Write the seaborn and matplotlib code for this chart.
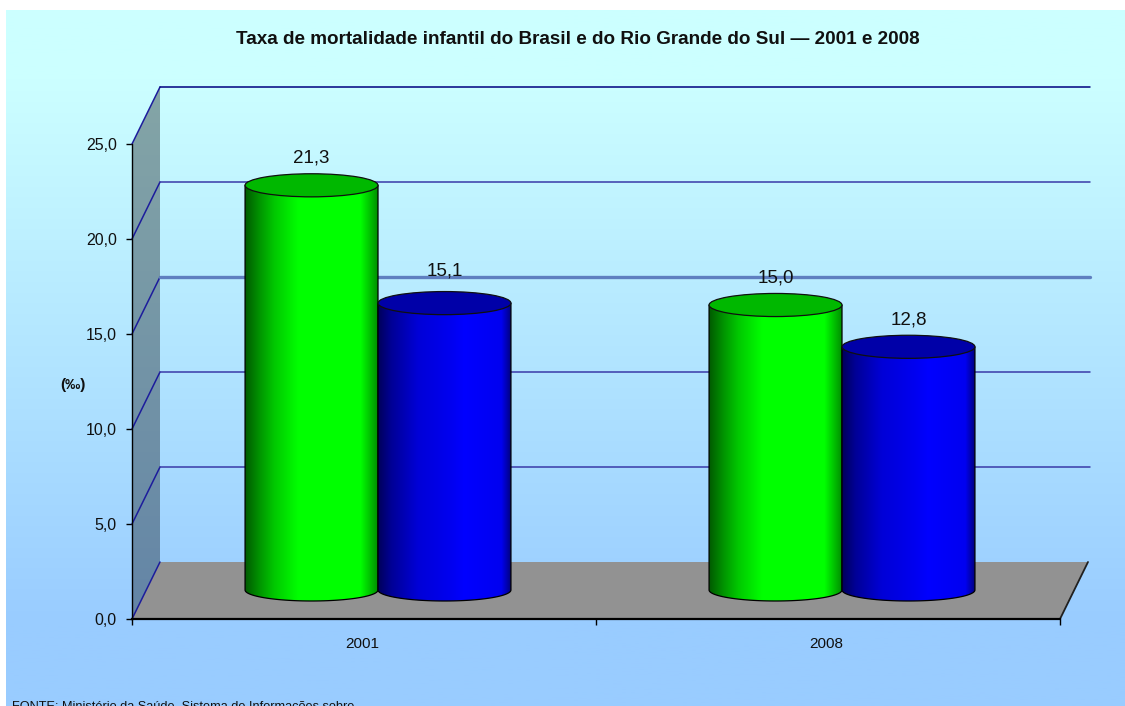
import numpy as np
import pandas as pd
import matplotlib
matplotlib.use("Agg")
import matplotlib.pyplot as plt
from matplotlib.colors import LinearSegmentedColormap
from matplotlib.patches import Ellipse, Polygon
import seaborn as sns

# ---- data ----
years = ["2001", "2008"]
brasil = [21.3, 15.0]
rio_grande_do_sul = [15.1, 12.8]
y_ticks = [0, 5, 10, 15, 20, 25]
y_tick_labels = ["0,0", "5,0", "10,0", "15,0", "20,0", "25,0"]
title = "Taxa de mortalidade infantil do Brasil e do Rio Grande do Sul \u2014 2001 e 2008"
source = "FONTE: Minist\u00e9rio da Sa\u00fade. Sistema de Informa\u00e7\u00f5es sobre"
unit = "(\u2030)"

W, H = 1125, 706
sns.set_style("white")
plt.rcParams["font.family"] = ["Liberation Sans", "DejaVu Sans"]

fig = plt.figure(figsize=(W / 100, H / 100), dpi=100, facecolor="white")

# gradient page background
bg = fig.add_axes([6 / W, 0, 1 - 6 / W, 1 - 10 / H], zorder=0)
bg_cmap = LinearSegmentedColormap.from_list(
    "bg", [(0, "#CCFFFF"), (0.1, "#CCFFFF"), (0.88, "#99CCFF"), (1, "#99CCFF")])
bg.imshow(np.linspace(0, 1, 256)[:, None], cmap=bg_cmap, aspect="auto")
bg.axis("off")

# main axes = front plane of the 3-D box
ax = fig.add_axes([132 / W, 1 - 619 / H, 928 / W, 475 / H], zorder=1)
ax.patch.set_visible(False)

df = pd.DataFrame({
    "ano": years * 2,
    "taxa": brasil + rio_grande_do_sul,
    "serie": ["Brasil"] * 2 + ["RS"] * 2,
})
sns.barplot(data=df, x="ano", y="taxa", hue="serie", order=years, width=0.573, gap=0, saturation=1,
            palette={"Brasil": "#00FF00", "RS": "#0000FF"}, legend=False, ax=ax, zorder=5)
bars = list(ax.patches)
ax.set_xlim(-0.5, 1.5)
ax.set_ylim(0, 25)

px_x = 2 / 928      # data units per pixel
px_y = 25 / 475
depth_x, depth_y = 28 * px_x, 57 * px_y
mid_x, mid_y = 14 * px_x, 29 * px_y
x0, x1 = ax.get_xlim()

# wall, floor, grid
ax.add_patch(Polygon([(x0, 0), (x0 + depth_x, depth_y), (x0 + depth_x, 25 + depth_y), (x0, 25)],
                     closed=True, fc="black", alpha=0.35, ec="none", clip_on=False, zorder=1))
ax.add_patch(Polygon([(x0, 0), (x0 + depth_x, depth_y), (x1 + depth_x, depth_y), (x1, 0)],
                     closed=True, fc="#929292", ec="none", clip_on=False, zorder=1))
for v in y_ticks:
    wide = v == 15
    ax.plot([x0, x0 + depth_x], [v, v + depth_y], color="#1C1C9C", lw=1.1, clip_on=False, zorder=2)
    if v > 0:
        ax.plot([x0 + depth_x, x1 + depth_x + 2 * px_x], [v + depth_y] * 2, clip_on=False, zorder=2,
                color="#5F7FC0" if wide else ("#000080" if v == 25 else "#3A3AA8"), lw=2.4 if wide else 1.1)
ax.plot([x1, x1 + depth_x], [0, depth_y], color="#202020", lw=1.3, clip_on=False, zorder=2)

# cylinders built on the seaborn bars
green_cm = LinearSegmentedColormap.from_list("g", [
    (0, "#005A00"), (0.1, "#009000"), (0.22, "#00C800"), (0.4, "#00FF00"),
    (0.87, "#00FF00"), (1, "#009000")])
blue_cm = LinearSegmentedColormap.from_list("b", [
    (0, "#00005A"), (0.1, "#000096"), (0.3, "#0000D7"), (0.55, "#0000F0"),
    (0.65, "#0000FF"), (0.93, "#0000F0"), (1, "#000082")])
styles = [(green_cm, "#00B800")] * 2 + [(blue_cm, "#0000A8")] * 2
label_lift = [27, 27, 32, 27]
grad = np.linspace(0, 1, 256)[None, :]
eh = 11 * px_y
values = brasil + rio_grande_do_sul
draw_rank = [0, 2, 1, 3]
for i, (bar, val) in enumerate(zip(bars, values)):
    b_x, b_w = bar.get_x() + mid_x, bar.get_width()
    cmap, top_col = styles[i]
    top = val + mid_y
    bar.set_visible(False)
    t = np.linspace(np.pi, 2 * np.pi, 60)
    xs = b_x + b_w / 2 + b_w / 2 * np.cos(t)
    ys = mid_y + eh * np.sin(t)
    outline = list(zip(xs, ys)) + [(b_x + b_w, top), (b_x, top)]
    z = 5 + draw_rank[i]
    clip = Polygon(outline, closed=True, transform=ax.transData, fc="none",
                   ec="black", lw=0.9, clip_on=False, zorder=z + 0.2)
    ax.add_patch(clip)
    im = ax.imshow(grad, cmap=cmap, vmin=0, vmax=1, aspect="auto", zorder=z,
                   extent=(b_x, b_x + b_w, mid_y - eh, top))
    im.set_clip_path(clip)
    ax.add_patch(Ellipse((b_x + b_w / 2, top), b_w, 2 * eh * 1.05, fc=top_col, ec="#101010",
                         lw=0.9, clip_on=False, zorder=z + 0.4))
    ax.text(b_x + b_w / 2, top + label_lift[i] * px_y,
            f"{val:.1f}".replace(".", ","), ha="center", va="center", fontsize=13.5,
            color="#101010", zorder=20, clip_on=False)
ax.set_xlim(x0, x1)
ax.set_ylim(0, 25)

# axes furniture
for s in ("top", "right"):
    ax.spines[s].set_visible(False)
ax.spines["left"].set_color("black")
ax.spines["left"].set_linewidth(1.0)
ax.spines["bottom"].set_color("black")
ax.spines["bottom"].set_linewidth(1.6)
ax.spines["left"].set_zorder(30)
ax.spines["bottom"].set_zorder(30)
ax.set_xlabel("")
ax.set_ylabel("")
ax.set_yticks(y_ticks, y_tick_labels, fontsize=11.5, color="#101010")
ax.set_xticks([-2 * px_x, 1 - 2 * px_x], years, fontsize=11, color="#101010")
ax.set_xticks([-0.5, 0.5, 1.5], minor=True)
ax.tick_params(axis="x", which="major", length=0, pad=13)
ax.tick_params(axis="x", which="minor", length=4, width=1, color="black", bottom=True)
ax.tick_params(axis="y", length=4, width=1, color="black", left=True, pad=7)

fig.text(578 / W, 1 - 39 / H, title, ha="center", va="center", fontsize=13.55, fontweight="bold", color="#101010")
fig.text(73 / W, 1 - 385 / H, unit, ha="center", va="center", fontsize=11, fontweight="bold", color="#101010")
fig.text(12 / W, 1 - 707 / H, source, ha="left", va="center", fontsize=9.2, color="#101010")

fig.savefig("out.png", dpi=100, facecolor="white")
